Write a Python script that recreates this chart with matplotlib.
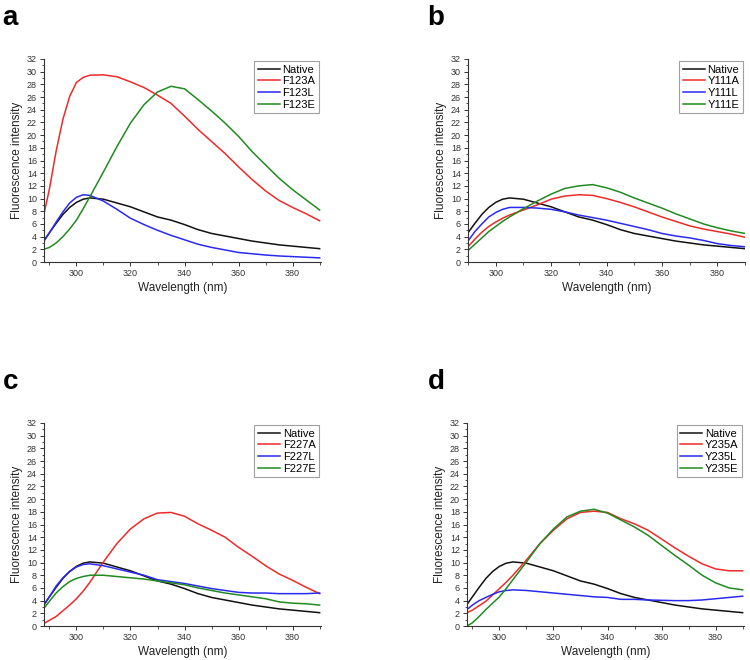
import matplotlib
matplotlib.use("Agg")
import matplotlib.pyplot as plt
from matplotlib.ticker import MultipleLocator

plt.rcParams['font.family'] = ['Liberation Sans', 'DejaVu Sans']

# wavelength grid (nm)
wl = [288, 290, 292.5, 295, 297.5, 300, 302.5, 305, 310, 315, 320, 325, 330,
      335, 340, 345, 350, 355, 360, 365, 370, 375, 380, 385, 390]

native = [3.4, 4.6, 6.1, 7.5, 8.6, 9.4, 9.9, 10.1, 9.9, 9.3, 8.7, 7.9, 7.1,
          6.6, 5.9, 5.1, 4.5, 4.1, 3.7, 3.3, 3.0, 2.7, 2.5, 2.3, 2.1]

# panel a
f123a = [7.6, 11.5, 17.5, 22.5, 26.1, 28.3, 29.1, 29.45, 29.5, 29.2, 28.4, 27.5, 26.3,
         25.0, 23.0, 20.9, 19.0, 17.1, 15.0, 13.0, 11.2, 9.7, 8.6, 7.6, 6.5]
f123l = [3.3, 4.6, 6.3, 7.9, 9.3, 10.2, 10.6, 10.5, 9.6, 8.3, 6.9, 5.9, 5.0,
         4.2, 3.5, 2.8, 2.3, 1.9, 1.5, 1.3, 1.1, 0.95, 0.85, 0.75, 0.65]
f123e = [2.0, 2.3, 3.0, 4.0, 5.2, 6.6, 8.4, 10.3, 14.2, 18.2, 21.9, 24.8, 26.8,
         27.7, 27.3, 25.6, 23.8, 21.9, 19.8, 17.4, 15.3, 13.2, 11.4, 9.8, 8.2]

# panel b
y111a = [1.8, 2.4, 3.6, 4.7, 5.6, 6.3, 6.9, 7.4, 8.2, 9.0, 9.9, 10.4, 10.6,
         10.5, 10.0, 9.4, 8.7, 7.9, 7.1, 6.4, 5.7, 5.2, 4.8, 4.4, 3.9]
y111l = [2.4, 3.3, 4.8, 6.0, 7.1, 7.8, 8.3, 8.6, 8.6, 8.5, 8.3, 7.9, 7.4,
         7.0, 6.6, 6.1, 5.6, 5.1, 4.5, 4.1, 3.8, 3.4, 2.9, 2.6, 2.4]
y111e = [1.2, 1.8, 2.8, 3.8, 4.8, 5.6, 6.4, 7.1, 8.4, 9.6, 10.7, 11.6, 12.0,
         12.2, 11.7, 11.0, 10.1, 9.3, 8.5, 7.6, 6.8, 6.0, 5.4, 4.9, 4.5]

# panel c
f227a = [0.4, 0.9, 1.5, 2.4, 3.3, 4.3, 5.5, 6.9, 10.1, 13.0, 15.3, 16.9, 17.8,
         17.9, 17.3, 16.1, 15.1, 14.0, 12.4, 11.0, 9.5, 8.2, 7.2, 6.1, 5.1]
f227l = [3.3, 4.6, 6.3, 7.6, 8.6, 9.3, 9.7, 9.8, 9.5, 9.0, 8.5, 8.0, 7.3,
         7.0, 6.7, 6.3, 5.9, 5.6, 5.3, 5.2, 5.2, 5.1, 5.1, 5.1, 5.2]
f227e = [2.8, 3.9, 5.2, 6.2, 7.0, 7.5, 7.8, 8.0, 8.0, 7.8, 7.6, 7.4, 7.1,
         6.8, 6.5, 6.0, 5.6, 5.2, 4.9, 4.6, 4.3, 3.8, 3.6, 3.5, 3.3]

# panel d
y235a = [2.1, 2.5, 3.2, 3.9, 4.9, 5.9, 6.9, 8.0, 10.4, 13.0, 15.1, 16.9, 17.9,
         18.1, 17.9, 16.9, 16.1, 15.1, 13.7, 12.3, 11.0, 9.8, 9.0, 8.7, 8.7]
y235l = [2.6, 3.3, 4.0, 4.5, 5.0, 5.4, 5.6, 5.7, 5.6, 5.4, 5.2, 5.0, 4.8,
         4.6, 4.5, 4.2, 4.2, 4.1, 4.05, 4.0, 4.0, 4.1, 4.3, 4.5, 4.7]
y235e = [0.0, 0.5, 1.5, 2.6, 3.6, 4.6, 5.9, 7.3, 10.1, 13.0, 15.3, 17.2, 18.1,
         18.4, 17.8, 16.7, 15.6, 14.3, 12.7, 11.1, 9.6, 8.0, 6.8, 6.0, 5.7]

panels = [
    ('a', ['Native', 'F123A', 'F123L', 'F123E'], [native, f123a, f123l, f123e], (288, 390.5)),
    ('b', ['Native', 'Y111A', 'Y111L', 'Y111E'], [native, y111a, y111l, y111e], (290, 390)),
    ('c', ['Native', 'F227A', 'F227L', 'F227E'], [native, f227a, f227l, f227e], (288, 390.5)),
    ('d', ['Native', 'Y235A', 'Y235L', 'Y235E'], [native, y235a, y235l, y235e], (288, 390.5)),
]
colors = ['#111111', '#ee2a2a', '#2a2aee', '#218a21']

# axes boxes in pixels: left, top, right, bottom
boxes = [(44, 59, 321, 262), (468, 59, 745, 262),
         (44, 423, 321, 626), (467, 423, 744, 626)]
letters_xy = [(2, 25), (427, 25), (3, 389), (428, 389)]

W, H = 750, 660
fig = plt.figure(figsize=(W / 100, H / 100), dpi=100)

for (letter, names, series, xlim), (l, t, r, b), (lx, ly) in zip(panels, boxes, letters_xy):
    ax = fig.add_axes([l / W, 1 - b / H, (r - l) / W, (b - t) / H])
    for name, ys, c in zip(names, series, colors):
        ax.plot(wl, ys, color=c, lw=1.1, label=name)
    ax.set_xlim(*xlim)
    ax.set_ylim(0, 32)
    ax.xaxis.set_major_locator(MultipleLocator(20))
    ax.xaxis.set_minor_locator(MultipleLocator(10))
    ax.yaxis.set_major_locator(MultipleLocator(2))
    ax.yaxis.set_minor_locator(MultipleLocator(1))
    ax.spines['top'].set_visible(False)
    ax.spines['right'].set_visible(False)
    for s in ('left', 'bottom'):
        ax.spines[s].set_linewidth(0.8)
        ax.spines[s].set_color('#333333')
    ax.tick_params(which='major', direction='out', length=3, width=0.7,
                   labelsize=6.5, pad=2, colors='#333333')
    ax.tick_params(which='minor', direction='out', length=1.8, width=0.6, colors='#333333')
    ax.set_xlabel('Wavelength (nm)', fontsize=8.5, labelpad=3, color='#222222')
    ax.set_ylabel('Fluorescence intensity', fontsize=8.5, labelpad=3, color='#222222')
    leg = ax.legend(loc='upper right', fontsize=8, frameon=True, fancybox=False,
                    edgecolor='#888888', handlelength=2.0, handletextpad=0.25,
                    labelspacing=0.15, borderpad=0.3, borderaxespad=0.2)
    leg.get_frame().set_linewidth(0.8)
    fig.text(lx / W, 1 - ly / H, letter, fontsize=20, fontweight='bold',
             ha='left', va='baseline')

fig.savefig('out.png', dpi=100)
